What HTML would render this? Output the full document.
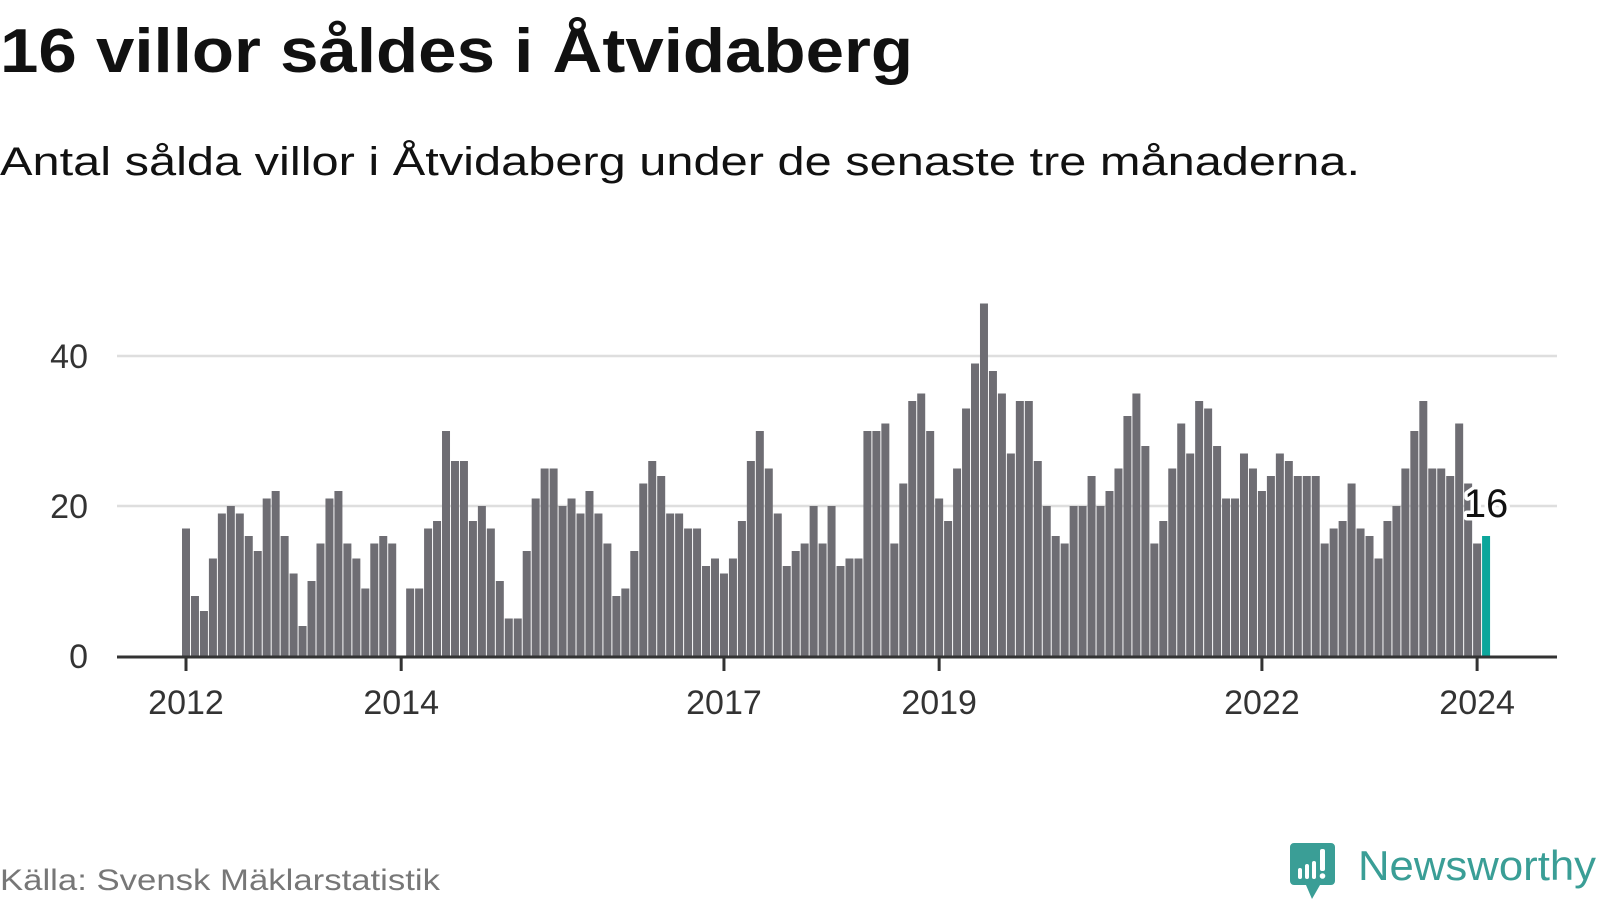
<!DOCTYPE html>
<html><head><meta charset="utf-8"><style>
html,body{margin:0;padding:0;background:#fff;}
svg{display:block;font-family:"Liberation Sans",sans-serif;}
</style></head><body>
<svg id="chart" width="1600" height="900" viewBox="0 0 1600 900">
<text x="0" y="72" font-size="62" font-weight="bold" fill="#111" textLength="913" lengthAdjust="spacingAndGlyphs">16 villor såldes i Åtvidaberg</text>
<text x="0" y="175" font-size="40" fill="#111" textLength="1360" lengthAdjust="spacingAndGlyphs">Antal sålda villor i Åtvidaberg under de senaste tre månaderna.</text>
<g id="grid"></g>
<g id="bars"></g>
<g id="axis"></g>
<text x="0" y="890" font-size="30" fill="#777" textLength="440" lengthAdjust="spacingAndGlyphs">Källa: Svensk Mäklarstatistik</text>
<g>
<path d="M1294 843 h37 a4 4 0 0 1 4 4 v34 a4 4 0 0 1 -4 4 h-11 l-8 14 l-6 -14 h-12 a4 4 0 0 1 -4 -4 v-34 a4 4 0 0 1 4 -4z" fill="#3a9e96"/>
<rect x="1298" y="868" width="4" height="11" rx="2" fill="#fff"/>
<rect x="1305" y="864" width="4" height="15" rx="2" fill="#fff"/>
<rect x="1312" y="861" width="4" height="18" rx="2" fill="#fff"/>
<rect x="1320" y="849" width="5" height="22" rx="2" fill="#fff"/>
<circle cx="1322.5" cy="876" r="2.8" fill="#fff"/>
<text x="1358" y="880" font-size="42" fill="#3a9e96" textLength="238" lengthAdjust="spacingAndGlyphs">Newsworthy</text>
</g>
</svg>
<script>
const years = ["2012","2013","2014","2015","2016","2017","2018","2019","2020","2021","2022","2023","2024"];
const values = [
17,8,6,13,19,20,19,16,14,21,22,16,
11,4,10,15,21,22,15,13,9,15,16,15,
0,9,9,17,18,30,26,26,18,20,17,10,
5,5,14,21,25,25,20,21,19,22,19,15,
8,9,14,23,26,24,19,19,17,17,12,13,
11,13,18,26,30,25,19,12,14,15,20,15,
20,12,13,13,30,30,31,15,23,34,35,30,
21,18,25,33,39,47,38,35,27,34,34,26,
20,16,15,20,20,24,20,22,25,32,35,28,
15,18,25,31,27,34,33,28,21,21,27,25,
22,24,27,26,24,24,24,15,17,18,23,17,
16,13,18,20,25,30,34,25,25,24,31,23,
15,16];
const yTicks = [0,20,40];
const tickYears = ["2012","2014","2017","2019","2022","2024"];
const NS="http://www.w3.org/2000/svg";
const x0=186, step=8.966, y0=656, perUnit=7.5, axL=117, axR=1557;
const xs=i=>x0+i*step;
const ys=v=>y0-v*perUnit;
function mk(tag,attrs,parent){const e=document.createElementNS(NS,tag);for(const k in attrs)e.setAttribute(k,attrs[k]);parent.appendChild(e);return e;}
const grid=document.getElementById('grid'),bars=document.getElementById('bars'),axis=document.getElementById('axis');
yTicks.forEach(t=>{
  if(t>0){const l=mk('line',{x1:axL,x2:axR,y1:ys(t),y2:ys(t),stroke:'#dedede','stroke-width':2.5},grid);
  
  }
  const tx=mk('text',{x:88,y:ys(t)+12,'font-size':34,fill:'#333','text-anchor':'end'},grid);
  tx.textContent=t;
  
  
});
values.forEach((v,i)=>{
  const last=i===values.length-1;
  const r=mk('rect',{x:xs(i)-4,y:ys(v),width:8,height:v*perUnit,fill:last?'#0ca69b':'#6e6d73'},bars);
  
  
});
const al=mk('line',{x1:axL,x2:axR,y1:y0+1,y2:y0+1,stroke:'#333','stroke-width':3},axis);


tickYears.forEach(y=>{
  const i=(+y-2012)*12, x=xs(i);
  const t=mk('line',{x1:x,x2:x,y1:y0,y2:y0+15,stroke:'#333','stroke-width':3},axis);
  
  
  const tx=mk('text',{x:x,y:y0+58,'font-size':34,fill:'#333','text-anchor':'middle'},axis);
  tx.textContent=y;
  
  
});
const li=values.length-1;
const lab=mk('text',{x:xs(li),y:517,'font-size':40,fill:'#111','text-anchor':'middle',stroke:'#fff','stroke-width':7,'paint-order':'stroke','stroke-linejoin':'round'},bars);
lab.textContent=values[li];


</script>
</body></html>
